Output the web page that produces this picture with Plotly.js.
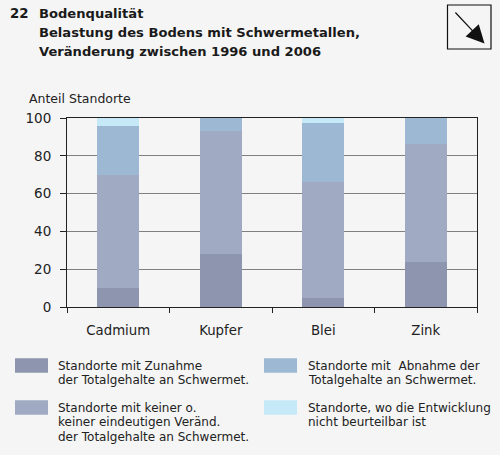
<!DOCTYPE html>
<html>
<head>
<meta charset="utf-8">
<script src="https://cdn.plot.ly/plotly-3.0.1.min.js"></script>
<style>
  html, body { margin: 0; padding: 0; background: #f5f5f5; }
  #chart { width: 500px; height: 455px; }
</style>
</head>
<body>
<div id="chart"></div>
<script>
// ---- Data ----
const categories = ['Cadmium', 'Kupfer', 'Blei', 'Zink'];
const zunahme   = [10, 28, 5, 24];
const keiner    = [60, 65, 61, 62];
const abnahme   = [26, 7, 31.5, 14];
const nicht     = [4, 0, 2.5, 0];
const yTicks    = [0, 20, 40, 60, 80, 100];
const seriesNames = [
  'Standorte mit Zunahme\nder Totalgehalte an Schwermet.',
  'Standorte mit keiner o.\nkeiner eindeutigen Veränd.\nder Totalgehalte an Schwermet.',
  'Standorte mit\u00a0 Abnahme der\nTotalgehalte an Schwermet.',
  'Standorte, wo die Entwicklung\nnicht beurteilbar ist'
];
const titleNumber = '22';
const titleLines = [
  'Bodenqualität',
  'Belastung des Bodens mit Schwermetallen,',
  'Veränderung zwischen 1996 und 2006'
];
const yAxisTitle = 'Anteil Standorte';

// ---- Styles ----
const colors = ['#8d96ae', '#a0aac3', '#9db8d2', '#c6e9f8'];
const FONT = 'DejaVu Sans, sans-serif';
const W = 500, H = 455;
const M = { l: 67, r: 23, t: 118, b: 148 };
const pw = W - M.l - M.r, ph = H - M.t - M.b;
const px = x => (x - M.l) / pw;
const py = y => (H - M.b - y) / ph;

const seriesValues = [zunahme, keiner, abnahme, nicht];
const traces = seriesValues.map((vals, i) => ({
  type: 'bar',
  x: categories,
  y: vals,
  name: seriesNames[i].replace(/\n/g, ' '),
  marker: { color: colors[i], line: { width: 0 } },
  width: 0.41,
  showlegend: false,
  hoverinfo: 'skip'
}));

const annotations = [];
const shapes = [];

// Title
annotations.push({
  xref: 'paper', yref: 'paper', x: px(8), y: py(13.5),
  xanchor: 'left', yanchor: 'middle', showarrow: false,
  text: '<b>' + titleNumber + '</b>', font: { family: FONT, size: 13.3, color: '#1a1a1a' }
});
const titleY = [13.5, 32.5, 51.5];
titleLines.forEach((t, i) => annotations.push({
  xref: 'paper', yref: 'paper', x: px(37), y: py(titleY[i]),
  xanchor: 'left', yanchor: 'middle', showarrow: false,
  text: '<b>' + t + '</b>', font: { family: FONT, size: 13.1, color: '#1a1a1a' }
}));

// Y axis title
annotations.push({
  xref: 'paper', yref: 'paper', x: px(27), y: py(98.5),
  xanchor: 'left', yanchor: 'middle', showarrow: false,
  text: yAxisTitle, font: { family: FONT, size: 12.5, color: '#222' }
});

// Arrow box
shapes.push({
  type: 'rect', xref: 'paper', yref: 'paper',
  x0: px(447.5), x1: px(491), y0: py(5), y1: py(49),
  line: { color: '#111', width: 1.2 }, fillcolor: 'rgba(0,0,0,0)'
});
annotations.push({
  xref: 'paper', yref: 'paper', x: px(484.5), y: py(43.5),
  ax: -30.5, ay: -32.5, axref: 'pixel', ayref: 'pixel',
  showarrow: true, text: '', arrowhead: 2, arrowsize: 3.0, arrowwidth: 1.2,
  arrowcolor: '#111'
});

// Legend (custom)
const legendPos = [
  { sx: 15, tx: 56, y: 365.5 },
  { sx: 15, tx: 56, y: 407.5 },
  { sx: 264, tx: 305.5, y: 365.5 },
  { sx: 264, tx: 305.5, y: 407.5 }
];
const lineGap = 14.7;
seriesNames.forEach((name, i) => {
  const p = legendPos[i];
  shapes.push({
    type: 'rect', xref: 'paper', yref: 'paper',
    x0: px(p.sx), x1: px(p.sx + 33), y0: py(p.y - 7.2), y1: py(p.y + 7.2),
    line: { width: 0 }, fillcolor: colors[i]
  });
  name.split('\n').forEach((ln, j) => annotations.push({
    xref: 'paper', yref: 'paper', x: px(p.tx), y: py(p.y + j * lineGap),
    xanchor: 'left', yanchor: 'middle', showarrow: false,
    text: ln, font: { family: FONT, size: 12, color: '#222' }
  }));
});

const layout = {
  width: W, height: H,
  margin: M,
  paper_bgcolor: '#f5f5f5',
  plot_bgcolor: '#f5f5f5',
  barmode: 'stack',
  showlegend: false,
  font: { family: FONT, color: '#222' },
  xaxis: {
    type: 'category',
    tickson: 'boundaries',
    ticks: 'outside', ticklen: 5, tickwidth: 1, tickcolor: '#222',
    showline: true, linecolor: '#222', linewidth: 1, mirror: true,
    showgrid: false, zeroline: false,
    tickfont: { family: FONT, size: 13.3, color: '#222' },
    ticklabelstandoff: 11
  },
  yaxis: {
    range: [0, 100],
    tickvals: yTicks,
    ticks: 'outside', ticklen: 6, tickwidth: 1, tickcolor: '#222',
    showline: true, linecolor: '#222', linewidth: 1, mirror: true,
    showgrid: true, gridcolor: '#808080', gridwidth: 1,
    zeroline: false,
    tickfont: { family: FONT, size: 13.5, color: '#222' },
    ticklabelstandoff: 6
  },
  annotations: annotations,
  shapes: shapes
};

Plotly.newPlot('chart', traces, layout, { staticPlot: true, displayModeBar: false });
</script>
</body>
</html>
